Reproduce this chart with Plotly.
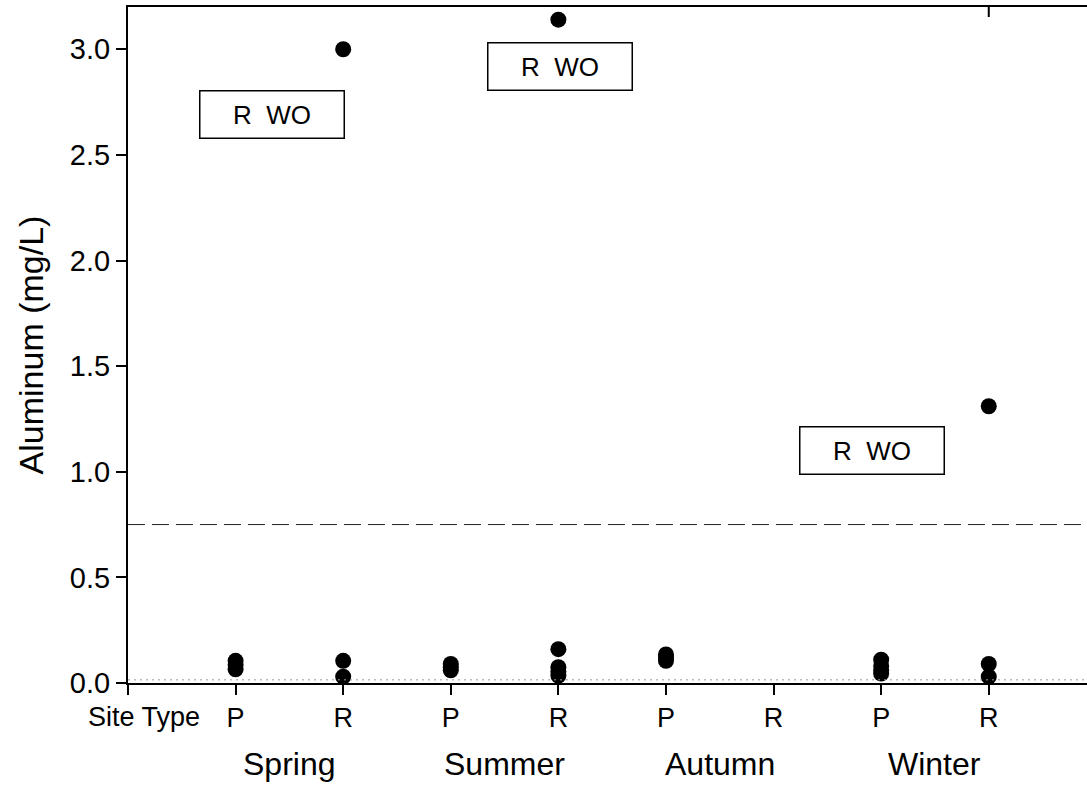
import plotly.graph_objects as go

# Aluminum concentrations (mg/L) by season and site type
seasons = ["Spring", "Summer", "Autumn", "Winter"]
site_types = ["P", "R"]

spring_p = [0.105, 0.085, 0.065]
spring_r = [3.00, 0.105, 0.03]
summer_p = [0.09, 0.075, 0.06]
summer_r = [3.14, 0.16, 0.075, 0.055, 0.035]
autumn_p = [0.135, 0.12, 0.105]
autumn_r = []
winter_p = [0.11, 0.08, 0.06, 0.045]
winter_r = [1.31, 0.09, 0.03]

groups = [spring_p, spring_r, summer_p, summer_r,
          autumn_p, autumn_r, winter_p, winter_r]

# Reference levels
criterion_level = 0.75
detection_level = 0.015

# Outlier notes: (text, x position, y value)
notes_text = ["R\u00a0\u00a0WO", "R\u00a0\u00a0WO", "R\u00a0\u00a0WO"]
notes_x = [1.34, 4.015, 6.915]
notes_y = [2.69, 2.92, 1.10]

y_ticks = [0.0, 0.5, 1.0, 1.5, 2.0, 2.5, 3.0]

FONT = "Liberation Sans, Arial, sans-serif"

tick_pos = list(range(1, len(groups) + 1))
tick_text = [site_types[i % 2] for i in range(len(groups))]

xs, ys = [], []
for pos, vals in zip(tick_pos, groups):
    xs += [pos] * len(vals)
    ys += vals

fig = go.Figure()

fig.add_trace(go.Scatter(
    x=xs, y=ys, mode="markers",
    marker=dict(size=16, color="black"),
    showlegend=False, hoverinfo="y",
))

# Horizontal reference lines across the whole plot
fig.add_shape(type="line", xref="paper", x0=0, x1=1, yref="y",
              y0=criterion_level, y1=criterion_level,
              line=dict(color="#222222", width=1, dash="17px,7px"))
fig.add_shape(type="line", xref="paper", x0=0, x1=1, yref="y",
              y0=detection_level, y1=detection_level,
              line=dict(color="#9a9a9a", width=1, dash="2px,4px"))

# Single tick on the top frame line
fig.add_shape(type="line", xref="x", x0=tick_pos[-1], x1=tick_pos[-1],
              yref="paper", y0=1, y1=1 - 10 / 676,
              line=dict(color="black", width=2))

annotations = []
for t, x, y in zip(notes_text, notes_x, notes_y):
    annotations.append(dict(
        x=x, y=y, xref="x", yref="y", text=t, showarrow=False,
        font=dict(family=FONT, size=26, color="black"),
        width=141, height=44, borderpad=1, borderwidth=1.5,
        bordercolor="black", bgcolor="white", align="center",
    ))

# "Site Type" row label left of the P/R tick labels
annotations.append(dict(
    x=0.69, y=-0.05, xref="x", yref="paper", xanchor="right",
    yanchor="middle", text="Site Type", showarrow=False,
    font=dict(family=FONT, size=27, color="black"),
))

# Season labels centred under each P/R pair
for i, s in enumerate(seasons):
    annotations.append(dict(
        x=tick_pos[2 * i] + 0.5, y=-0.12, xref="x", yref="paper",
        xanchor="center", yanchor="middle", text=s, showarrow=False,
        font=dict(family=FONT, size=32, color="black"),
    ))

fig.update_layout(
    width=1087, height=786,
    margin=dict(l=128, r=0, t=7, b=103),
    paper_bgcolor="white", plot_bgcolor="white",
    annotations=annotations,
    font=dict(family=FONT, color="black"),
    xaxis=dict(
        range=[0, 8.913], tickmode="array",
        tickvals=[0] + tick_pos, ticktext=[""] + tick_text,
        ticks="outside", ticklen=10, tickwidth=2, tickcolor="black",
        showline=True, linecolor="black", linewidth=2, mirror=True,
        showgrid=False, zeroline=False,
        tickfont=dict(family=FONT, size=27, color="black"),
    ),
    yaxis=dict(
        range=[0, 3.2], tickmode="array", tickvals=y_ticks,
        ticktext=[f"{v:.1f}" for v in y_ticks],
        ticks="outside", ticklen=10, tickwidth=2, tickcolor="black",
        showline=True, linecolor="black", linewidth=2,
        showgrid=False, zeroline=False,
        tickfont=dict(family=FONT, size=29, color="black"),
        title=dict(text="Aluminum (mg/L)",
                   font=dict(family=FONT, size=34, color="black"),
                   standoff=16),
    ),
)

fig.write_html("out.html")
